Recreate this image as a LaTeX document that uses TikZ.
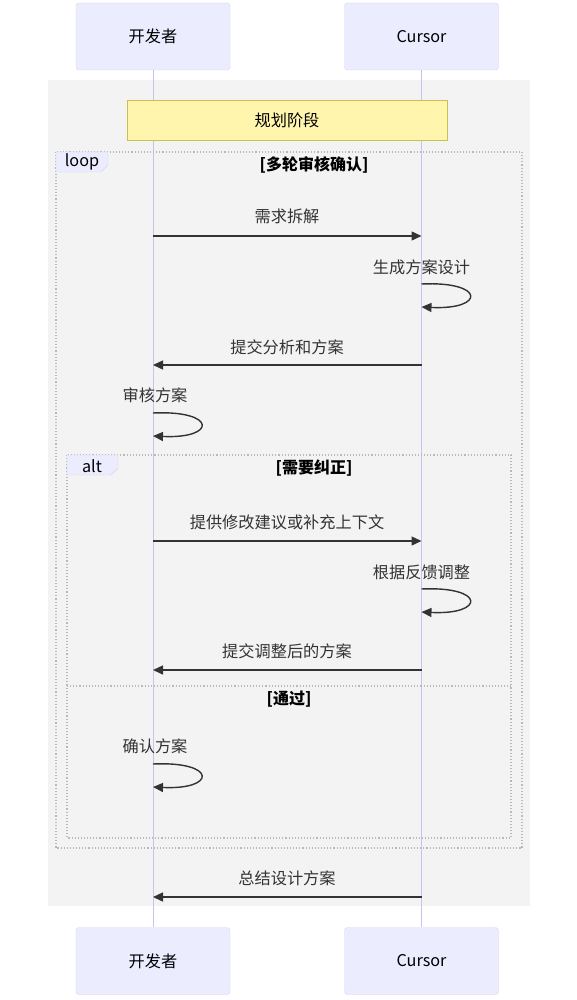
\documentclass[tikz,border=0pt]{standalone}
\usepackage{fontspec}
\setmainfont{Noto Sans CJK SC}
\usetikzlibrary{arrows.meta}

\definecolor{actorfill}{HTML}{ECECFF}
\definecolor{actorline}{HTML}{D4D4F2}
\definecolor{lifeline}{HTML}{C4C4F0}
\definecolor{notefill}{HTML}{FFF5AD}
\definecolor{noteline}{HTML}{C8C050}
\definecolor{groupfill}{HTML}{F3F3F3}
\definecolor{msgline}{HTML}{333333}

\tikzset{
	actor/.style={draw=actorline, fill=actorfill, rounded corners=3pt, minimum width=154pt, minimum height=67pt},
	lifeline/.style={draw=lifeline, line width=1pt},
	msg/.style={draw=msgline, line width=1.4pt, -{Triangle[length=10pt,width=9pt]}},
	frame/.style={draw=gray!55, dotted, line width=1.1pt},
	tab/.style={draw=actorline, fill=actorfill},
	msglabel/.style={text=msgline, inner sep=0pt},
	cond/.style={font=\fontsize{16}{19}\selectfont\bfseries}
}

\begin{document}
\begin{tikzpicture}[x=1pt, y=-1pt, font=\fontsize{16.2}{19}\selectfont]

\useasboundingbox (0,0) rectangle (576,1000);

% background of the group
\fill[groupfill] (48,80) rectangle (530,906);

% actors
\node[actor] at (153,36.5) (devtop) {开发者};
\node[actor] at (421.5,36.5) (curtop) {Cursor};
\node[actor] at (153,961) (devbot) {开发者};
\node[actor] at (421.5,961) (curbot) {Cursor};

\path (devtop) edge[lifeline] (devbot)
	(curtop) edge[lifeline] (curbot);

% note
\node[draw=noteline, fill=notefill, minimum width=320pt, minimum height=40pt] at (287,120) (plan) {规划阶段};

% loop frame
\draw[frame] (56,152) rectangle (522,848);
\draw[tab] (56,152) -- (108,152) -- (108,165) -- (101,172) -- (56,172) -- cycle;
\node at (82,162) (looplbl) {loop};
\node[cond] at (314,165) (loopcond) {[多轮审核确认]};

% alt frame
\draw[frame] (67,455) rectangle (511,838);
\draw[tab] (67,455) -- (118,455) -- (118,468) -- (111,475) -- (67,475) -- cycle;
\node at (92,466) (altlbl) {alt};
\node[cond] at (314,468) (altcond) {[需要纠正]};
\draw[frame] (67,686) -- (511,686);
\node[cond] at (289,699) (elsecond) {[通过]};

% points on the lifelines
\coordinate (d1) at (153,236); \coordinate (c1) at (421.5,236);
\coordinate (c2a) at (421.5,284); \coordinate (c2b) at (421.5,307);
\coordinate (d3) at (153,365); \coordinate (c3) at (421.5,365);
\coordinate (d4a) at (153,413); \coordinate (d4b) at (153,436);
\coordinate (d5) at (153,541); \coordinate (c5) at (421.5,541);
\coordinate (c6a) at (421.5,589); \coordinate (c6b) at (421.5,612);
\coordinate (d7) at (153,670); \coordinate (c7) at (421.5,670);
\coordinate (d8a) at (153,764); \coordinate (d8b) at (153,787);
\coordinate (d9) at (153,897); \coordinate (c9) at (421.5,897);

% messages
\node[msglabel] at (287,216) (m1) {需求拆解};
\draw[msg] (d1) -- (c1);

\node[msglabel] at (421.5,267) (m2) {生成方案设计};
\draw[msg] (c2a) .. controls +(64,-3) and +(64,3) .. (c2b);

\node[msglabel] at (287,347) (m3) {提交分析和方案};
\draw[msg] (c3) -- (d3);

\node[msglabel] at (155,395) (m4) {审核方案};
\draw[msg] (d4a) .. controls +(64,-3) and +(64,3) .. (d4b);

\node[msglabel] at (287,522) (m5) {提供修改建议或补充上下文};
\draw[msg] (d5) -- (c5);

\node[msglabel] at (421.5,572) (m6) {根据反馈调整};
\draw[msg] (c6a) .. controls +(64,-3) and +(64,3) .. (c6b);

\node[msglabel] at (287,651) (m7) {提交调整后的方案};
\draw[msg] (c7) -- (d7);

\node[msglabel] at (155,746) (m8) {确认方案};
\draw[msg] (d8a) .. controls +(64,-3) and +(64,3) .. (d8b);

\node[msglabel] at (287,878) (m9) {总结设计方案};
\draw[msg] (c9) -- (d9);

\end{tikzpicture}
\end{document}
